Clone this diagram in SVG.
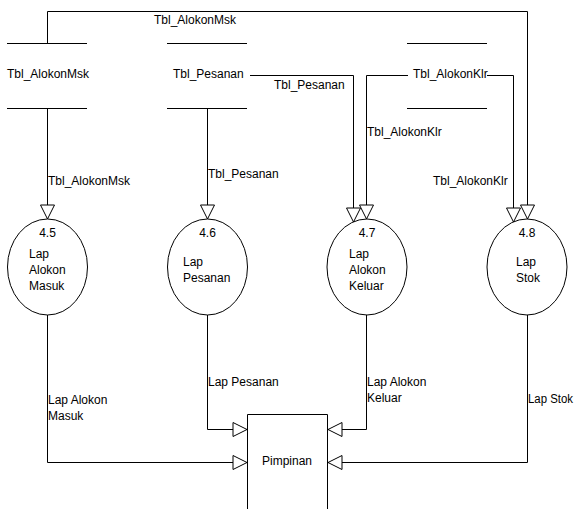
<svg xmlns="http://www.w3.org/2000/svg" width="574" height="509" viewBox="0 0 574 509">
  <style>
    text { font-family: "Liberation Sans", Arial, sans-serif; font-size: 12px; fill: #000; }
    .ln { fill: none; stroke: #000; stroke-width: 1; }
    .flow { fill: none; stroke: #000; stroke-width: 1; marker-end: url(#open); }
    .proc { fill: #fff; stroke: #000; stroke-width: 1; }
    .mid { text-anchor: middle; }
  </style>
  <defs>
    <marker id="open" markerUnits="userSpaceOnUse" markerWidth="16" markerHeight="16" refX="14" refY="7" orient="auto" overflow="visible">
      <path d="M0,0 L14,7 L0,14 Z" fill="#fff" stroke="#000" stroke-width="1"/>
    </marker>
  </defs>

  <rect width="574" height="509" fill="#fff"/>

  <!-- data stores -->
  <g id="store-alokonmsk">
    <line class="ln" x1="7" y1="43.5" x2="87" y2="43.5"/>
    <line class="ln" x1="7" y1="108.5" x2="87" y2="108.5"/>
    <text x="7" y="78">Tbl_AlokonMsk</text>
  </g>
  <g id="store-pesanan">
    <line class="ln" x1="167" y1="43.5" x2="247" y2="43.5"/>
    <line class="ln" x1="167" y1="108.5" x2="247" y2="108.5"/>
    <text x="173" y="78">Tbl_Pesanan</text>
  </g>
  <g id="store-alokonklr">
    <line class="ln" x1="407" y1="43.5" x2="487" y2="43.5"/>
    <line class="ln" x1="407" y1="108.5" x2="487" y2="108.5"/>
    <text x="413" y="78">Tbl_AlokonKlr</text>
  </g>

  <!-- processes -->
  <g id="proc-4-5">
    <ellipse class="proc" cx="47.5" cy="267" rx="40" ry="48"/>
    <text class="mid" x="47.5" y="237">4.5</text>
    <text x="29" y="258">Lap</text>
    <text x="29" y="274">Alokon</text>
    <text x="29" y="290">Masuk</text>
  </g>
  <g id="proc-4-6">
    <ellipse class="proc" cx="207.5" cy="267" rx="40" ry="48"/>
    <text class="mid" x="207.5" y="237">4.6</text>
    <text x="183" y="266">Lap</text>
    <text x="183" y="282">Pesanan</text>
  </g>
  <g id="proc-4-7">
    <ellipse class="proc" cx="367" cy="267" rx="40" ry="48"/>
    <text class="mid" x="367" y="237">4.7</text>
    <text x="349" y="258">Lap</text>
    <text x="349" y="274">Alokon</text>
    <text x="349" y="290">Keluar</text>
  </g>
  <g id="proc-4-8">
    <ellipse class="proc" cx="527" cy="267" rx="40" ry="48"/>
    <text class="mid" x="527" y="237">4.8</text>
    <text x="516" y="266">Lap</text>
    <text x="516" y="282">Stok</text>
  </g>

  <!-- external entity -->
  <g id="ent-pimpinan">
    <path class="ln" d="M247.5,509 V414.5 H327.5 V509"/>
    <text x="262" y="465">Pimpinan</text>
  </g>

  <!-- data flows -->
  <g id="connectors">
    <path class="flow" d="M47.5,43 V11.5 H527.5 V219"/>
    <path class="flow" d="M47.5,108 V219"/>
    <path class="flow" d="M207.5,108 V219"/>
    <path class="flow" d="M250,75.5 H353.5 V222"/>
    <path class="flow" d="M408,75.5 H366.5 V219"/>
    <path class="flow" d="M487,75.5 H513.5 V222"/>
    <path class="flow" d="M47.5,315 V462.5 H247"/>
    <path class="flow" d="M207.5,315 V429.5 H247"/>
    <path class="flow" d="M366.5,315 V429.5 H328"/>
    <path class="flow" d="M527.5,315 V462.5 H328"/>
  </g>

  <!-- flow labels -->
  <g id="flow-labels">
    <text x="154" y="24">Tbl_AlokonMsk</text>
    <text x="48" y="185">Tbl_AlokonMsk</text>
    <text x="208" y="178">Tbl_Pesanan</text>
    <text x="274" y="89">Tbl_Pesanan</text>
    <text x="367" y="136">Tbl_AlokonKlr</text>
    <text x="433" y="185">Tbl_AlokonKlr</text>
    <text x="48" y="404">Lap Alokon</text>
    <text x="48" y="420">Masuk</text>
    <text x="208" y="386">Lap Pesanan</text>
    <text x="367" y="386">Lap Alokon</text>
    <text x="367" y="402">Keluar</text>
    <text x="528" y="403" textLength="45" lengthAdjust="spacingAndGlyphs">Lap Stok</text>
  </g>
</svg>
